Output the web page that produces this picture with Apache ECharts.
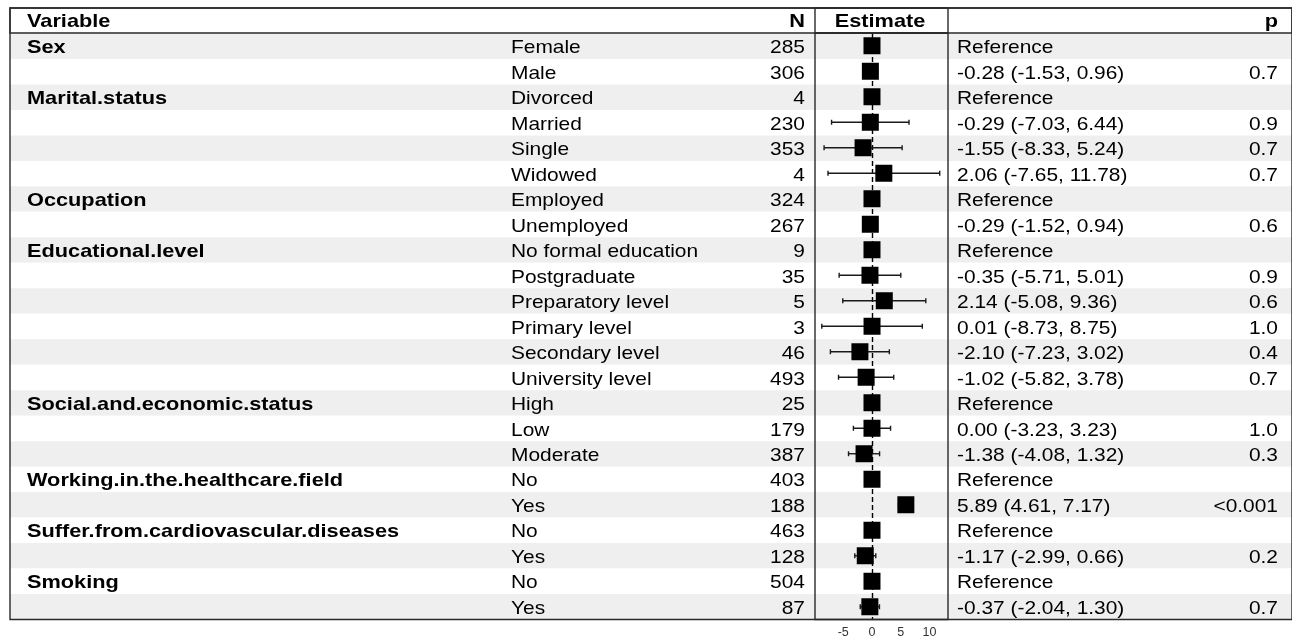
<!DOCTYPE html>
<html>
<head>
<meta charset="utf-8">
<script src="https://cdn.jsdelivr.net/npm/echarts@6/dist/echarts.min.js"></script>
<style>
  html, body { margin: 0; padding: 0; background: #ffffff; }
  #chart { width: 1292px; height: 640px; }
</style>
</head>
<body>
<div id="chart"></div>
<script>
// ---------------- data ----------------
const headers = ['Variable', 'N', 'Estimate', 'p'];
const variables = ['Sex', '', 'Marital.status', '', '', '', 'Occupation', '', 'Educational.level', '', '', '', '', '',
  'Social.and.economic.status', '', '', 'Working.in.the.healthcare.field', '', 'Suffer.from.cardiovascular.diseases', '', 'Smoking', ''];
const levels = ['Female', 'Male', 'Divorced', 'Married', 'Single', 'Widowed', 'Employed', 'Unemployed',
  'No formal education', 'Postgraduate', 'Preparatory level', 'Primary level', 'Secondary level', 'University level',
  'High', 'Low', 'Moderate', 'No', 'Yes', 'No', 'Yes', 'No', 'Yes'];
const nValues = [285, 306, 4, 230, 353, 4, 324, 267, 9, 35, 5, 3, 46, 493, 25, 179, 387, 403, 188, 463, 128, 504, 87];
const estimates = [0, -0.28, 0, -0.29, -1.55, 2.06, 0, -0.29, 0, -0.35, 2.14, 0.01, -2.10, -1.02, 0, 0.00, -1.38, 0, 5.89, 0, -1.17, 0, -0.37];
const lowerCI = [null, -1.53, null, -7.03, -8.33, -7.65, null, -1.52, null, -5.71, -5.08, -8.73, -7.23, -5.82, null, -3.23, -4.08, null, 4.61, null, -2.99, null, -2.04];
const upperCI = [null, 0.96, null, 6.44, 5.24, 11.78, null, 0.94, null, 5.01, 9.36, 8.75, 3.02, 3.78, null, 3.23, 1.32, null, 7.17, null, 0.66, null, 1.30];
const pValues = ['', '0.7', '', '0.9', '0.7', '0.7', '', '0.6', '', '0.9', '0.6', '1.0', '0.4', '0.7', '', '1.0', '0.3', '', '<0.001', '', '0.2', '', '0.7'];
const tickValues = [-5, 0, 5, 10];

// ---------------- derived ----------------
const rowIds = levels.map((_, i) => 'r' + i);
const tableIds = ['hdr'].concat(rowIds);
const estText = estimates.map((e, i) => lowerCI[i] === null ? 'Reference'
  : e.toFixed(2) + ' (' + lowerCI[i].toFixed(2) + ', ' + upperCI[i].toFixed(2) + ')');

const FONT = '"Liberation Sans", Arial, sans-serif';
const FS = 18.5;
const SX = 1.13, SXB = 1.175;
const COL = { variable: 27, level: 511, n: 805, est: 880, estText: 957, p: 1278 };

function txt(text, x, y, align, bold) {
  return {
    type: 'text', x: x, y: y, scaleX: bold ? SXB : SX,
    style: {
      text: String(text), fill: '#000000', fontSize: FS, fontFamily: FONT,
      fontWeight: bold ? 'bold' : 'normal', align: align, verticalAlign: 'middle'
    }
  };
}

const chart = echarts.init(document.getElementById('chart'), null, { renderer: 'canvas' });

const frame = { show: true, borderColor: '#2a2a2a', borderWidth: 1.4, backgroundColor: 'transparent' };

const option = {
  animation: false,
  backgroundColor: '#ffffff',
  grid: [
    Object.assign({ left: 10, top: 8, width: 1300, height: 611.5, z: 5 }, frame),  // 0 whole table
    Object.assign({ left: 10, top: 8, width: 1300, height: 25, z: 5 }, frame),     // 1 header band
    Object.assign({ left: 815, top: 8, width: 133, height: 25, z: 5 }, frame),     // 2 header estimate cell
    Object.assign({ left: 815, top: 33, width: 133, height: 586.5, z: 5 }, frame)  // 3 forest plot
  ],
  xAxis: [
    { gridIndex: 0, type: 'value', min: 0, max: 1, show: false },
    { gridIndex: 1, type: 'value', min: 0, max: 1, show: false },
    { gridIndex: 2, type: 'value', min: 0, max: 1, show: false },
    {
      gridIndex: 3, type: 'value', min: -9.91, max: 13.22,
      axisLine: { show: false }, axisTick: { show: false }, splitLine: { show: false },
      axisLabel: {
        customValues: tickValues, fontSize: 12.5, color: '#333333', fontFamily: FONT, margin: 7
      }
    }
  ],
  yAxis: [
    {
      gridIndex: 0, type: 'category', data: tableIds, inverse: true, z: -1,
      axisLine: { show: false }, axisTick: { show: false }, axisLabel: { show: false },
      splitLine: { show: false },
      splitArea: { show: true, areaStyle: { color: ['#ffffff', '#efefef'] } }
    },
    { gridIndex: 1, type: 'category', data: ['h'], show: false },
    { gridIndex: 2, type: 'category', data: ['h'], show: false },
    { gridIndex: 3, type: 'category', data: rowIds, inverse: true, show: false }
  ],
  series: [
    {
      // table text
      type: 'custom', xAxisIndex: 0, yAxisIndex: 0, z: 10, silent: true,
      data: tableIds.map((_, r) => [0, r]),
      renderItem: function (params, api) {
        const r = api.value(1);
        const y = api.coord([0, r])[1] + (r === 0 ? 1 : 2);
        if (r === 0) {
          return {
            type: 'group', children: [
              txt(headers[0], COL.variable, y, 'left', true),
              txt(headers[1], COL.n, y, 'right', true),
              txt(headers[2], COL.est, y, 'center', true),
              txt(headers[3], COL.p, y, 'right', true)
            ]
          };
        }
        const i = r - 1;
        const ch = [];
        if (variables[i]) ch.push(txt(variables[i], COL.variable, y, 'left', true));
        ch.push(txt(levels[i], COL.level, y, 'left', false));
        ch.push(txt(nValues[i], COL.n, y, 'right', false));
        ch.push(txt(estText[i], COL.estText, y, 'left', false));
        if (pValues[i]) ch.push(txt(pValues[i], COL.p, y, 'right', false));
        return { type: 'group', children: ch };
      }
    },
    {
      // confidence intervals
      type: 'custom', xAxisIndex: 3, yAxisIndex: 3, z: 3, silent: true,
      data: estimates.map((e, i) => [lowerCI[i], upperCI[i], i]).filter(d => d[0] !== null),
      renderItem: function (params, api) {
        const a = api.coord([api.value(0), api.value(2)]);
        const b = api.coord([api.value(1), api.value(2)]);
        const st = { stroke: '#1a1a1a', lineWidth: 1.4 };
        const cap = 2.5;
        return {
          type: 'group', children: [
            { type: 'line', shape: { x1: a[0], y1: a[1], x2: b[0], y2: b[1] }, style: st },
            { type: 'line', shape: { x1: a[0], y1: a[1] - cap, x2: a[0], y2: a[1] + cap }, style: st },
            { type: 'line', shape: { x1: b[0], y1: b[1] - cap, x2: b[0], y2: b[1] + cap }, style: st }
          ]
        };
      }
    },
    {
      // point estimates
      type: 'scatter', xAxisIndex: 3, yAxisIndex: 3, z: 4, silent: true,
      symbol: 'rect', symbolSize: 17,
      itemStyle: { color: '#000000', opacity: 1 },
      data: estimates.map((e, i) => [e, i]),
      markLine: {
        silent: true, symbol: 'none', z: 2,
        label: { show: false },
        lineStyle: { color: '#000000', type: [5, 3], width: 1.4 },
        data: [{ xAxis: 0 }]
      }
    }
  ]
};
chart.setOption(option);
</script>
</body>
</html>
